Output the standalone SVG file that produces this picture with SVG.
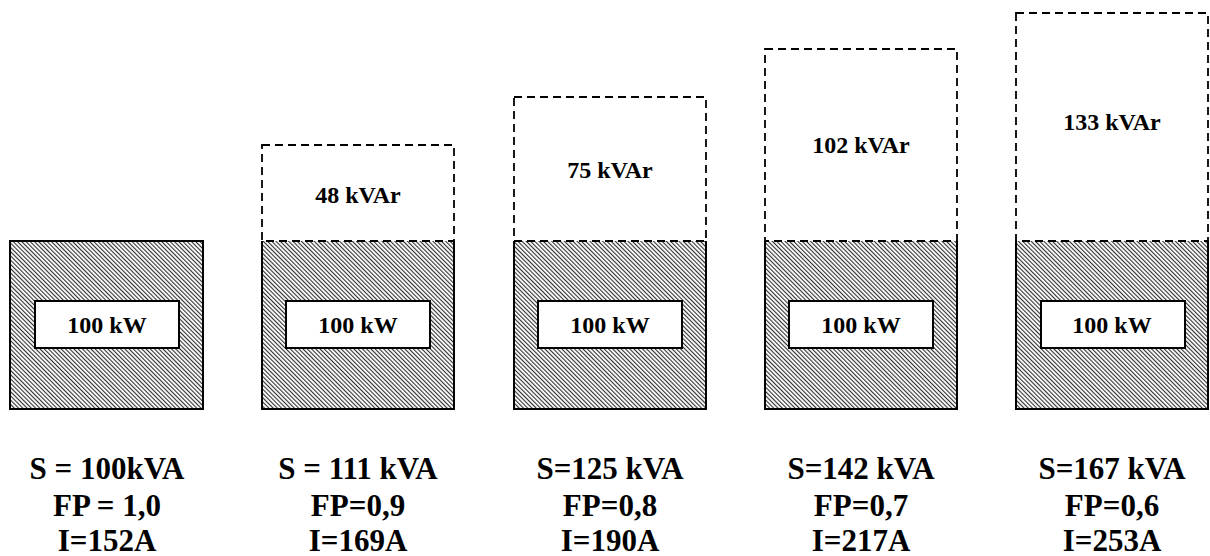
<svg xmlns="http://www.w3.org/2000/svg" width="1210" height="556" viewBox="0 0 1210 556">
<defs>
<pattern id="hatch" width="3" height="3" patternUnits="userSpaceOnUse" patternTransform="rotate(-45)">
<rect width="3" height="3" fill="#fff"/>
<line x1="0.6" y1="-1" x2="0.6" y2="4" stroke="#000" stroke-width="0.9"/>
</pattern>
</defs>
<style>
.hat{fill:url(#hatch);stroke:none}
.edge{fill:none;stroke:#000;stroke-width:2}
.inner{fill:#fff;stroke:#000;stroke-width:2}
.dash{fill:none;stroke:#000;stroke-width:1.8;stroke-dasharray:8 5}
.t{font-weight:bold;text-anchor:middle;fill:#000}
.s{font-size:24px}
.b{font-size:31px}
</style>
<g id="col1">
<rect class="hat" x="10" y="241" width="193" height="168"/>
<rect class="edge" x="10" y="241" width="193" height="168"/>
<rect class="inner" x="35" y="301" width="144" height="47"/>
<text class="t s" font-family="Liberation Serif" x="107" y="333">100 kW</text>
<text class="t b" font-family="Liberation Serif" x="107" y="479">S = 100kVA</text>
<text class="t b" font-family="Liberation Serif" x="107" y="516">FP = 1,0</text>
<text class="t b" font-family="Liberation Serif" x="107" y="551">I=152A</text>
</g>
<g id="col2">
<rect class="hat" x="262" y="241" width="192" height="168"/>
<path class="edge" d="M262,241 V409 H454 V241"/>
<rect class="dash" x="262" y="145" width="192" height="96"/>
<rect class="inner" x="286" y="301" width="144" height="47"/>
<text class="t s" font-family="Liberation Serif" x="358" y="333">100 kW</text>
<text class="t s" font-family="Liberation Serif" x="358" y="203">48 kVAr</text>
<text class="t b" font-family="Liberation Serif" x="358" y="479">S = 111 kVA</text>
<text class="t b" font-family="Liberation Serif" x="358" y="516">FP=0,9</text>
<text class="t b" font-family="Liberation Serif" x="358" y="551">I=169A</text>
</g>
<g id="col3">
<rect class="hat" x="514" y="241" width="192" height="168"/>
<path class="edge" d="M514,241 V409 H706 V241"/>
<rect class="dash" x="514" y="97" width="192" height="144"/>
<rect class="inner" x="538" y="301" width="144" height="47"/>
<text class="t s" font-family="Liberation Serif" x="610" y="333">100 kW</text>
<text class="t s" font-family="Liberation Serif" x="610" y="178">75 kVAr</text>
<text class="t b" font-family="Liberation Serif" x="610" y="479">S=125 kVA</text>
<text class="t b" font-family="Liberation Serif" x="610" y="516">FP=0,8</text>
<text class="t b" font-family="Liberation Serif" x="610" y="551">I=190A</text>
</g>
<g id="col4">
<rect class="hat" x="765" y="241" width="192" height="168"/>
<path class="edge" d="M765,241 V409 H957 V241"/>
<rect class="dash" x="765" y="49" width="192" height="192"/>
<rect class="inner" x="789" y="301" width="144" height="47"/>
<text class="t s" font-family="Liberation Serif" x="861" y="333">100 kW</text>
<text class="t s" font-family="Liberation Serif" x="861" y="153">102 kVAr</text>
<text class="t b" font-family="Liberation Serif" x="861" y="479">S=142 kVA</text>
<text class="t b" font-family="Liberation Serif" x="861" y="516">FP=0,7</text>
<text class="t b" font-family="Liberation Serif" x="861" y="551">I=217A</text>
</g>
<g id="col5">
<rect class="hat" x="1016" y="241" width="192" height="168"/>
<path class="edge" d="M1016,241 V409 H1208 V241"/>
<rect class="dash" x="1016" y="13" width="192" height="228"/>
<rect class="inner" x="1041" y="301" width="144" height="47"/>
<text class="t s" font-family="Liberation Serif" x="1112" y="333">100 kW</text>
<text class="t s" font-family="Liberation Serif" x="1112" y="130">133 kVAr</text>
<text class="t b" font-family="Liberation Serif" x="1112" y="479">S=167 kVA</text>
<text class="t b" font-family="Liberation Serif" x="1112" y="516">FP=0,6</text>
<text class="t b" font-family="Liberation Serif" x="1112" y="551">I=253A</text>
</g>
<g id="connectors"></g>
</svg>
